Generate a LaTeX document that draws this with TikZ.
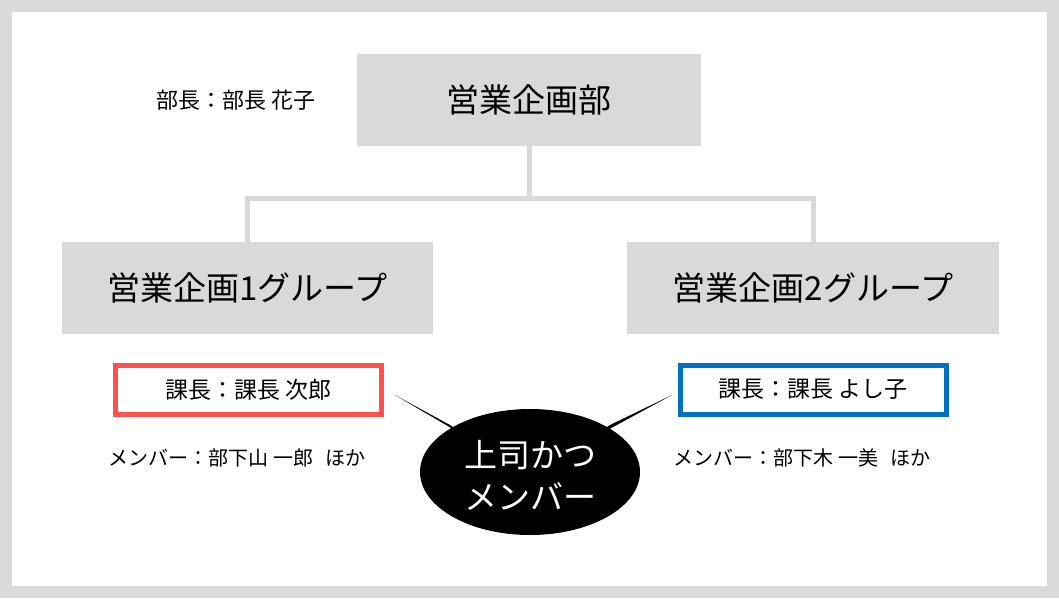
\documentclass[tikz,border=0pt]{standalone}
\usepackage{fontspec}
\setmainfont{Noto Sans CJK JP}
\definecolor{lg}{HTML}{D9D9D9}
\definecolor{rd}{HTML}{FF5050}
\definecolor{bl}{HTML}{0070C0}
\begin{document}
\begin{tikzpicture}[x=1pt,y=-1pt,
  unit/.style={fill=lg,draw=none,minimum width=#1,minimum height=92pt,inner sep=0pt,font=\fontsize{33}{38}\selectfont},
  boss/.style={draw=#1,line width=5pt,fill=white,minimum width=266pt,minimum height=49pt,inner sep=0pt,font=\fontsize{23}{28}\selectfont},
  lbl/.style={inner sep=0pt,font=\fontsize{20}{24}\selectfont},
  conn/.style={draw=lg,line width=5pt}]
\fill[lg] (0,0) rectangle (1059,598);
\fill[white] (12,12) rectangle (1047,586);
\node[unit=344pt] (top) at (529,99.5) {営業企画部};
\node[unit=371pt] (g1) at (247.5,288) {営業企画1グループ};
\node[unit=372pt] (g2) at (813,288) {営業企画2グループ};
\coordinate (j) at (529,198);
\draw[conn] (top.south) -- (j);
\draw[conn] (g1.north) |- (j) -| (g2.north);
\node[lbl,font=\fontsize{22}{26}\selectfont] (bu) at (236,100) {部長：部長 花子};
\node[boss=rd] (k1) at (248.5,389.5) {課長：課長 次郎};
\node[boss=bl] (k2) at (813,389.5) {課長：課長 よし子};
\node[lbl] (m1) at (237,458) {メンバー：部下山 一郎\hspace{12pt}ほか};
\node[lbl] (m2) at (802,458) {メンバー：部下木 一美\hspace{12pt}ほか};
\coordinate (p1) at (395,395);
\coordinate (p2) at (672,395);
\fill[black] (530,472) ellipse [x radius=110, y radius=63];
\fill[black] (p1) -- (450,425) -- (480,445) -- cycle;
\fill[black] (p2) -- (610,425) -- (580,445) -- cycle;
\node[align=center,text=white,inner sep=0pt,font=\fontsize{33}{42}\selectfont] (c) at (530,475) {上司かつ\\メンバー};
\end{tikzpicture}
\end{document}
